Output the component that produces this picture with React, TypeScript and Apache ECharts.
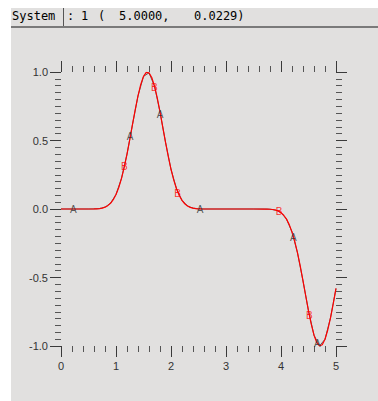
import React, { useEffect, useRef } from "react";
import * as echarts from "echarts";

const curveX = [
  0, 0.5, 0.6, 0.65, 0.7, 0.75, 0.8, 0.85, 0.9, 0.95, 1.0, 1.05, 1.1, 1.15, 1.2, 1.25, 1.3, 1.35, 1.4, 1.45,
  1.5, 1.55, 1.6, 1.65, 1.7, 1.75, 1.8, 1.85, 1.9, 1.95, 2.0, 2.05, 2.1, 2.15, 2.2, 2.25, 2.3, 2.35, 2.4, 2.45,
  2.5, 2.55, 2.6, 3.0, 3.5, 3.7, 3.75, 3.8, 3.85, 3.9, 3.95, 4.0, 4.05, 4.1, 4.15, 4.2, 4.25, 4.3, 4.35, 4.4,
  4.45, 4.5, 4.55, 4.6, 4.65, 4.7, 4.75, 4.8, 4.85, 4.9, 4.95, 5.0,
];
const curveY = [
  0, 0, 0.0006, 0.0015, 0.0033, 0.0069, 0.0133, 0.0243, 0.0418, 0.0682, 0.106, 0.157, 0.224, 0.305, 0.4, 0.507,
  0.617, 0.726, 0.826, 0.909, 0.968, 0.997, 0.994, 0.96, 0.897, 0.811, 0.709, 0.598, 0.488, 0.384, 0.29, 0.211,
  0.148, 0.0989, 0.063, 0.0383, 0.0221, 0.012, 0.0061, 0.0029, 0.0013, 0.0005, 0, 0, 0, -0.0003, -0.0007,
  -0.0017, -0.0037, -0.0077, -0.0148, -0.0267, -0.0456, -0.0738, -0.114, -0.168, -0.236, -0.32, -0.417, -0.525,
  -0.635, -0.744, -0.841, -0.921, -0.975, -0.999, -0.991, -0.951, -0.883, -0.794, -0.691, -0.58,
];

const markerAX = [0.224, 1.255, 1.8, 2.527, 4.224, 4.66];
const markerAY = [0, 0.528, 0.69, 0, -0.207, -0.985];
const markerBX = [1.151, 1.697, 2.121, 3.964, 4.515];
const markerBY = [0.31, 0.89, 0.11, -0.02, -0.775];

const xTicks = ["0", "1", "2", "3", "4", "5"];
const yTicks = ["-1.0", "-0.5", "0.0", "0.5", "1.0"];

const statusLabel = "System";
const statusParts = [":", "1", "(", "5.0000,", "0.0229)"];

export default function App() {
  const ref = useRef<HTMLDivElement>(null);
  useEffect(() => {
    if (!ref.current) return;
    const chart = echarts.init(ref.current, undefined, { renderer: "svg" });
    const fine = curveX.map((x, i) => [x, curveY[i]]);
    const coarse = fine.filter((p) => Math.round(p[0] * 100) % 10 === 0);
    const tickColor = "#3a3a3a";
    const labelStyle = { color: "#333", fontSize: 11, fontFamily: "Liberation Sans" };
    const baseX = {
      type: "value",
      min: 0,
      max: 5,
      interval: 1,
      axisLine: { show: false, onZero: false },
      splitLine: { show: false },
      axisTick: { show: true, length: 11, lineStyle: { color: tickColor, width: 1 } },
      minorTick: { show: true, splitNumber: 5, length: 6, lineStyle: { color: "#555", width: 1 } },
      minorSplitLine: { show: false },
    };
    const baseY = {
      type: "value",
      min: -1,
      max: 1,
      interval: 0.5,
      axisLine: { show: false, onZero: false },
      splitLine: { show: false },
      axisTick: { show: true, length: 11, lineStyle: { color: tickColor, width: 1 } },
      minorTick: { show: true, splitNumber: 10, length: 6, lineStyle: { color: "#555", width: 1 } },
      minorSplitLine: { show: false },
    };
    const partX = [56, 70, 87, 108, 183];
    chart.setOption({
      animation: false,
      backgroundColor: "#e1e0df",
      grid: { left: 50, top: 64, width: 275, height: 274, containLabel: false },
      xAxis: [
        {
          ...baseX,
          position: "bottom",
          axisLabel: { ...labelStyle, margin: 14, formatter: (v: number) => xTicks[Math.round(v)] },
        },
        { ...baseX, position: "top", axisLabel: { show: false } },
      ],
      yAxis: [
        {
          ...baseY,
          position: "left",
          axisLabel: {
            ...labelStyle,
            margin: 13,
            formatter: (v: number) => yTicks[Math.round((v + 1) * 2)],
          },
        },
        { ...baseY, position: "right", axisLabel: { show: false } },
      ],
      graphic: [
        { type: "text", left: 1, top: 2, style: { text: statusLabel, fill: "#000", font: "12px 'DejaVu Sans Mono'" } },
        ...statusParts.map((t, i) => ({
          type: "text",
          left: partX[i],
          top: 2,
          style: { text: t, fill: "#000", font: "12px 'DejaVu Sans Mono'" },
        })),
        { type: "line", shape: { x1: 52.5, y1: 0, x2: 52.5, y2: 18 }, style: { stroke: "#555", lineWidth: 1 } },
        { type: "line", shape: { x1: 0, y1: 19, x2: 367, y2: 19 }, style: { stroke: "#7a7a7a", lineWidth: 2 } },
      ],
      series: [
        {
          type: "line",
          data: coarse,
          showSymbol: false,
          lineStyle: { color: "#000", width: 0.8, opacity: 0.75 },
          z: 2,
        },
        {
          type: "line",
          data: fine,
          showSymbol: false,
          lineStyle: { color: "#ff0000", width: 1.2 },
          z: 3,
        },
        {
          type: "scatter",
          data: markerAX.map((x, i) => [x, markerAY[i]]),
          symbolSize: 1,
          itemStyle: { color: "rgba(0,0,0,0)" },
          label: { show: true, position: "inside", formatter: "A", color: "#333", fontSize: 10, fontFamily: "Liberation Sans" },
          z: 4,
        },
        {
          type: "scatter",
          data: markerBX.map((x, i) => [x, markerBY[i]]),
          symbolSize: 1,
          itemStyle: { color: "rgba(0,0,0,0)" },
          label: { show: true, position: "inside", formatter: "B", color: "#ff0000", fontSize: 10, fontFamily: "Liberation Sans" },
          z: 4,
        },
      ],
    });
    return () => chart.dispose();
  }, []);
  return (
    <div style={{ position: "absolute", left: 0, top: 0, width: 378, height: 401, background: "#fff" }}>
      <div ref={ref} style={{ position: "absolute", left: 11, top: 8, width: 367, height: 393 }} />
    </div>
  );
}
